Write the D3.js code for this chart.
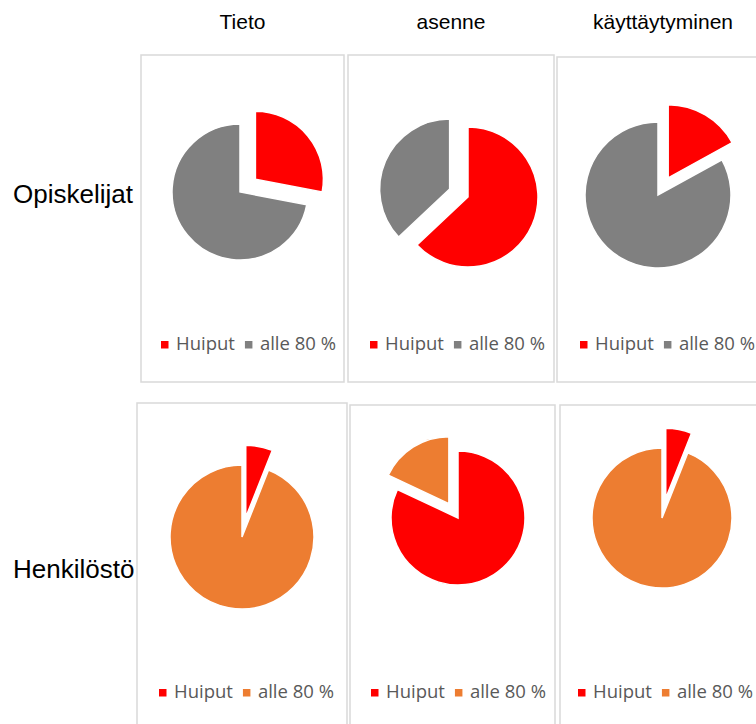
<!DOCTYPE html>
<html>
<head>
<meta charset="utf-8">
<script src="https://cdn.jsdelivr.net/npm/d3@7"></script>
<style>
  body { margin: 0; background: #fff; }
  svg { display: block; }
</style>
</head>
<body>
<svg id="chart" width="756" height="724"></svg>
<script>
// values (percent)
const columns = ["Tieto", "asenne", "käyttäytyminen"];
const rows = ["Opiskelijat", "Henkilöstö"];
const series = ["Huiput", "alle 80 %"];
const opiskelijatHuiput = [28, 63, 17];
const opiskelijatAlle = [72, 37, 83];
const henkilostoHuiput = [6, 82, 6];
const henkilostoAlle = [94, 18, 94];

// panel boxes + pie placement (layout only)
const panels = [
  { box: [141, 55, 203, 327], cx: 99, cy: 137, r: 68, explode: 0, dist: 20, lx: 20 },
  { box: [348, 55, 206, 327], cx: 120, cy: 142, r: 70, explode: 1, dist: 20, lx: 22 },
  { box: [557, 57, 220, 325], cx: 101, cy: 138, r: 73, explode: 0, dist: 20, lx: 23 },
  { box: [137, 403, 210, 340], cx: 105, cy: 134, r: 72, explode: 0, dist: 20, lx: 22 },
  { box: [350, 405, 205, 340], cx: 108, cy: 113, r: 67, explode: 1, dist: 17, lx: 21 },
  { box: [560, 405, 220, 340], cx: 102, cy: 113, r: 70, explode: 0, dist: 20, lx: 18 },
];

const width = 756,
  height = 724;
const svg = d3.select("#chart");

const rowColor = [
  d3.scaleOrdinal().domain(series).range(["#ff0000", "#808080"]),
  d3.scaleOrdinal().domain(series).range(["#ff0000", "#ed7d31"]),
];
const values = [
  [opiskelijatHuiput, opiskelijatAlle],
  [henkilostoHuiput, henkilostoAlle],
];

const pie = d3
  .pie()
  .sort(null)
  .value((d) => d.value);

// column headers
columns.forEach((c, i) => {
  const b = panels[i].box;
  svg
    .append("text")
    .attr("x", i == 2 ? 663 : b[0] + b[2] / 2)
    .attr("y", 29)
    .attr("text-anchor", "middle")
    .style("font-family", "Liberation Sans, Arial, sans-serif")
    .style("font-size", "21px")
    .style("fill", "#000")
    .text(c);
});

panels.forEach((p, k) => {
  const row = Math.floor(k / 3),
    col = k % 3;
  const color = rowColor[row];
  const data = series.map((s, j) => ({ name: s, value: values[row][j][col] }));
  const [bx, by, bw, bh] = p.box;

  const g = svg.append("g").attr("transform", `translate(${bx},${by})`);
  g.append("rect")
    .attr("x", 0)
    .attr("y", 0)
    .attr("width", bw)
    .attr("height", bh)
    .attr("fill", "#fff")
    .attr("stroke", "#d9d9d9")
    .attr("stroke-width", 1.5);

  const arc = d3.arc().innerRadius(0).outerRadius(p.r);
  g.append("g")
    .attr("transform", `translate(${p.cx},${p.cy})`)
    .selectAll("path")
    .data(pie(data))
    .join("path")
    .attr("d", arc)
    .attr("transform", (d, i) => {
      if (i != p.explode) return null;
      const a = (d.startAngle + d.endAngle) / 2;
      return `translate(${Math.sin(a) * p.dist},${-Math.cos(a) * p.dist})`;
    })
    .attr("fill", (d) => color(d.data.name))
    .attr("stroke", "#fff")
    .attr("stroke-width", 1.5);

  // legend
  const ly = (row == 0 ? 350 : 698) - by;
  const legend = g.append("g").attr("transform", `translate(${p.lx},0)`);
  let x = 0;
  series.forEach((s) => {
    legend
      .append("rect")
      .attr("x", x)
      .attr("y", ly - 9)
      .attr("width", 7.5)
      .attr("height", 7.5)
      .attr("fill", color(s));
    const t = legend
      .append("text")
      .attr("x", x + 15)
      .attr("y", ly)
      .style("font-family", "Open Sans, sans-serif")
      .style("font-size", "18.5px")
      .style("fill", "#595959")
      .text(s);
    x += 15 + t.node().getComputedTextLength() + 10;
  });
});

// row labels
rows.forEach((r, i) => {
  svg
    .append("text")
    .attr("x", 13)
    .attr("y", i == 0 ? 203 : 578)
    .style("font-family", "Liberation Sans, Arial, sans-serif")
    .style("font-size", "26px")
    .style("fill", "#000")
    .text(r);
});
</script>
</body>
</html>
